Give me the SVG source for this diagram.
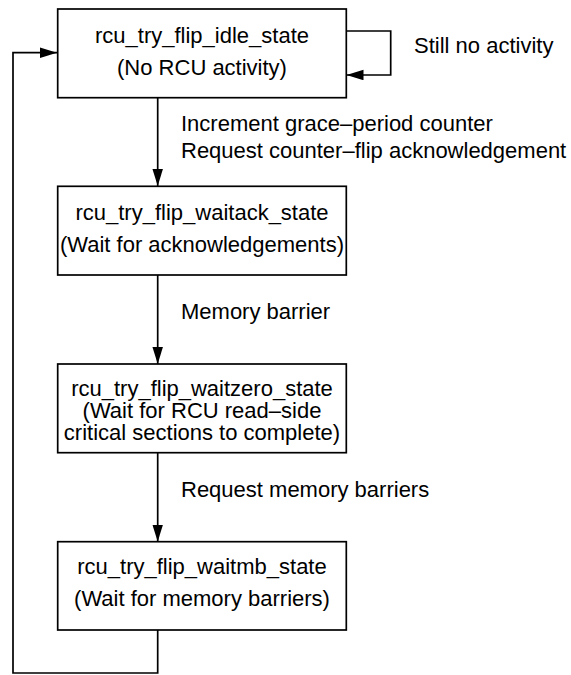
<svg xmlns="http://www.w3.org/2000/svg" width="571" height="675" viewBox="0 0 571 675">
<style>
.box{fill:#fff;stroke:#000;stroke-width:1.7}
.t{font-family:"Liberation Sans",Arial,Helvetica,sans-serif;font-size:22px;fill:#000}
.c{text-anchor:middle}
.edge{fill:none;stroke:#000;stroke-width:1.7}
</style>
<defs>
<marker id="ah" markerUnits="userSpaceOnUse" markerWidth="18" markerHeight="11" refX="17" refY="5.25" orient="auto">
<path d="M0,0 L17,5.25 L0,10.5 z" fill="#000"/>
</marker>
</defs>
<g id="connectors">
<polyline class="edge" points="346,31 390.7,31 390.7,75 346.5,75" marker-end="url(#ah)"/>
<line class="edge" x1="157.7" y1="97.7" x2="157.7" y2="186" marker-end="url(#ah)"/>
<line class="edge" x1="157.7" y1="275" x2="157.7" y2="364" marker-end="url(#ah)"/>
<line class="edge" x1="157.7" y1="452.7" x2="157.7" y2="541.7" marker-end="url(#ah)"/>
<polyline class="edge" points="157.7,630 157.7,673 13,673 13,52.7 57,52.7" marker-end="url(#ah)"/>
<text class="t" x="414" y="53">Still no activity</text>
<text class="t" x="181" y="131">Increment grace–period counter</text>
<text class="t" x="181" y="158">Request counter–flip acknowledgement</text>
<text class="t" x="181" y="319">Memory barrier</text>
<text class="t" x="181" y="496.5">Request memory barriers</text>
</g>
<g id="idle">
<rect class="box" x="57.7" y="9" width="288.6" height="88.7"/>
<text class="t c" x="202" y="43">rcu_try_flip_idle_state</text>
<text class="t c" x="202" y="75">(No RCU activity)</text>
</g>
<g id="waitack">
<rect class="box" x="57.7" y="186.3" width="288.6" height="88.7"/>
<text class="t c" x="202" y="220">rcu_try_flip_waitack_state</text>
<text class="t c" x="202" y="252">(Wait for acknowledgements)</text>
</g>
<g id="waitzero">
<rect class="box" x="57.7" y="364" width="288.6" height="88.7"/>
<text class="t c" x="202" y="396">rcu_try_flip_waitzero_state</text>
<text class="t c" x="202" y="418">(Wait for RCU read–side</text>
<text class="t c" x="202" y="440">critical sections to complete)</text>
</g>
<g id="waitmb">
<rect class="box" x="57.7" y="541.7" width="288.6" height="88.3"/>
<text class="t c" x="202" y="574">rcu_try_flip_waitmb_state</text>
<text class="t c" x="202" y="606">(Wait for memory barriers)</text>
</g>
</svg>
